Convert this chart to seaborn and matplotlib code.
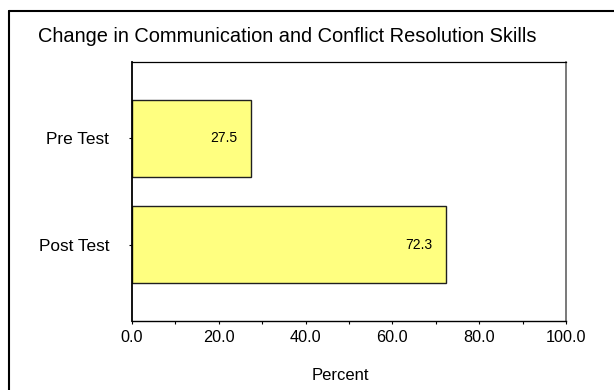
import matplotlib
matplotlib.use("Agg")
import matplotlib.pyplot as plt
import seaborn as sns
from matplotlib.lines import Line2D
from matplotlib.ticker import MultipleLocator, FormatStrFormatter

categories = ["Pre Test", "Post Test"]
values = [27.5, 72.3]
title = "Change in Communication and Conflict Resolution Skills"
x_label = "Percent"

sns.set_theme(style="white")
plt.rcParams['font.family'] = ['Liberation Sans', 'DejaVu Sans']
plt.rcParams['text.color'] = 'black'
plt.rcParams['axes.labelcolor'] = 'black'
plt.rcParams['xtick.color'] = 'black'
plt.rcParams['ytick.color'] = 'black'

W, H = 614, 390
fig = plt.figure(figsize=(W / 100, H / 100), dpi=100)
fig.patch.set_facecolor("white")

# axes box in pixels: left 132, right 566, top 62, bottom 321
ax = fig.add_axes([132 / W, 1 - 321 / H, (566 - 132) / W, (321 - 62) / H])

sns.barplot(x=values, y=categories, orient="h", color="#FFFF80",
            saturation=1, edgecolor="#202020", linewidth=1.0, width=0.72, ax=ax)

ax.set_xlim(0, 100)
ax.set_ylim(1.72, -0.72)
ax.xaxis.set_major_locator(MultipleLocator(20))
ax.xaxis.set_minor_locator(MultipleLocator(10))
ax.xaxis.set_major_formatter(FormatStrFormatter("%.1f"))

ax.tick_params(axis="x", which="both", direction="out", length=2.5, width=0.8,
               color="black", labelcolor="black", labelsize=11.7, pad=4, bottom=True)
ax.tick_params(axis="y", direction="out", length=2.5, width=0.8,
               color="black", labelcolor="black", labelsize=12.4, pad=14, left=True)

for side in ["left", "bottom", "top"]:
    ax.spines[side].set_color("black")
ax.spines["left"].set_linewidth(1.3)
ax.spines["bottom"].set_linewidth(1.0)
ax.spines["top"].set_linewidth(0.9)
ax.spines["right"].set_color("#555555")
ax.spines["right"].set_linewidth(1.1)

ax.set_ylabel("")
ax.set_xlabel(x_label, fontsize=12, va="center", color="black")
ax.xaxis.set_label_coords((340 - 132) / (566 - 132), (321 - 376) / (321 - 62))

for i, v in enumerate(values):
    ax.annotate(f"{v:.1f}", xy=(v, i), xytext=(-10, 0), textcoords="offset points",
                ha="right", va="center", fontsize=10, color="black")

fig.text(38 / W, 1 - 37 / H, title, ha="left", va="center", fontsize=14.4, color="black")

# outer frame (only left and top edges visible)
lw = 1.5
fig.add_artist(Line2D([8.5 / W, 8.5 / W], [0, 1 - 10.5 / H], transform=fig.transFigure,
                      color="black", linewidth=lw))
fig.add_artist(Line2D([8.5 / W, 1], [1 - 10.5 / H, 1 - 10.5 / H], transform=fig.transFigure,
                      color="black", linewidth=lw))

fig.savefig("out.png", dpi=100, facecolor="white")
